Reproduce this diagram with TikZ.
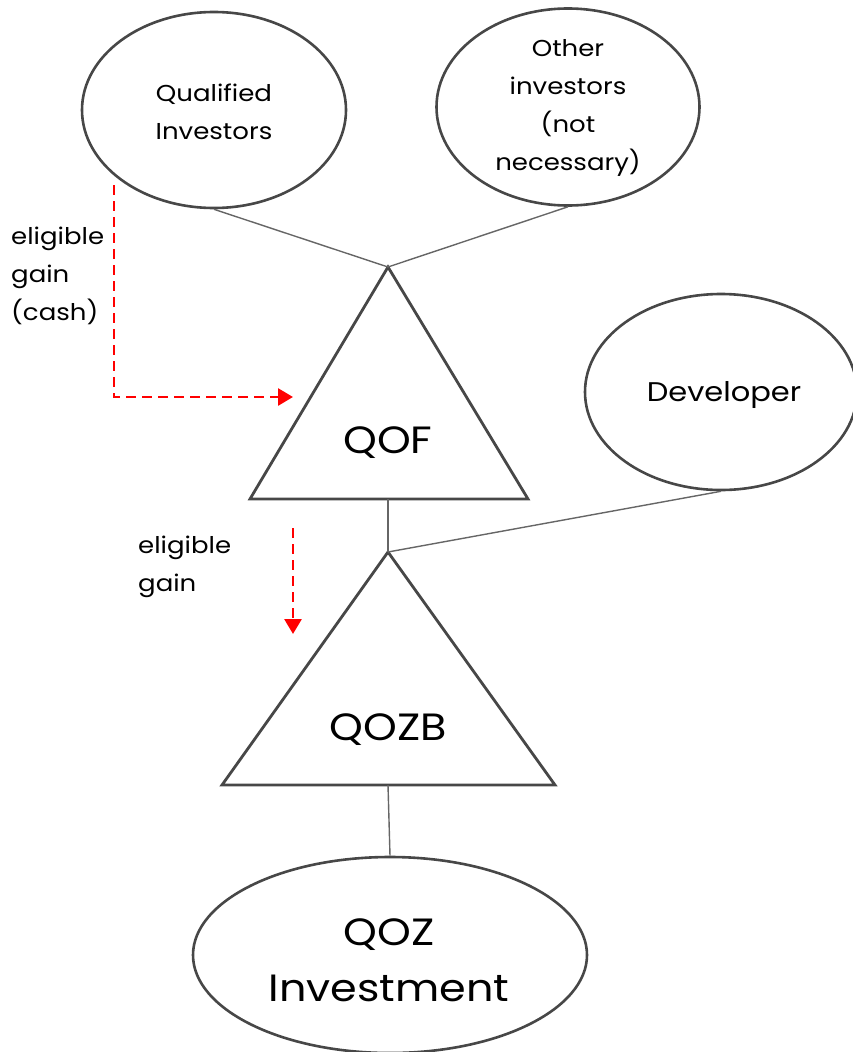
\documentclass[tikz,border=0pt]{standalone}
\usepackage{fontspec}
\setmainfont{Poppins}[FakeStretch=1.13]
\usetikzlibrary{shapes.geometric,arrows.meta}
\begin{document}
\begin{tikzpicture}[x=1pt,y=1pt,
  oval/.style={draw=black!72,line width=2.6pt,ellipse,inner sep=0pt},
  tri/.style={draw=black!72,line width=2.8pt,line join=miter},
  link/.style={draw=black!60,line width=1.4pt},
  flow/.style={draw=red,line width=2.8pt,dash pattern=on 10pt off 6pt,-{Triangle[length=15pt,width=17pt]}},
  lbl/.style={align=left,anchor=north west,font=\fontsize{23}{38}\selectfont,inner sep=0pt},
  ctext/.style={align=center,font=\fontsize{23}{38}\selectfont}
]
\useasboundingbox (0,0) rectangle (853,-1052);
% ellipses
\node[oval,minimum width=264pt,minimum height=196pt] (qi) at (214,-110) {};
\node[ctext] at (214,-112) {Qualified\\Investors};
\node[oval,minimum width=263pt,minimum height=197pt] (oi) at (568,-107) {};
\node[ctext] at (568,-108) {Other\\investors\\(not\\necessary)};
\node[oval,minimum width=272pt,minimum height=196pt] (dev) at (721,-392) {};
\node[ctext,font=\fontsize{27}{34}\selectfont] at (724,-395) {Developer};
\node[oval,minimum width=394pt,minimum height=196pt] (qoz) at (390,-955) {};
\node[ctext,font=\fontsize{38}{56}\selectfont] at (389,-960) {QOZ\\Investment};
% triangles
\coordinate (fA) at (388,-267);
\coordinate (fL) at (250,-499);
\coordinate (fR) at (528,-499);
\coordinate (fB) at (388,-499);
\draw[tri] (fA) -- (fL) -- (fR) -- cycle;
\node[ctext,font=\fontsize{38}{44}\selectfont] (qof) at (388,-443) {QOF};
\coordinate (bA) at (388,-552);
\coordinate (bL) at (222,-785);
\coordinate (bR) at (555,-785);
\coordinate (bB) at (388,-785);
\draw[tri] (bA) -- (bL) -- (bR) -- cycle;
\node[ctext,font=\fontsize{38}{44}\selectfont] (qozb) at (388,-730) {QOZB};
% links
\draw[link] (qi.south) -- (fA);
\draw[link] (oi.south) -- (fA);
\draw[link] (fB) -- (bA);
\draw[link] (dev.south) -- (bA);
\draw[link] (bB) -- (qoz.north);
% flows
\coordinate (c1) at (114,-185);
\coordinate (c2) at (114,-397);
\coordinate (c3) at (293,-397);
\draw[flow] (c1) -- (c2) -- (c3);
\coordinate (d1) at (293,-528);
\coordinate (d2) at (293,-634);
\draw[flow] (d1) -- (d2);
\node[lbl] (l1) at (11,-227) {eligible\\gain\\(cash)};
\node[lbl] (l2) at (138,-536) {eligible\\gain};
\end{tikzpicture}
\end{document}
